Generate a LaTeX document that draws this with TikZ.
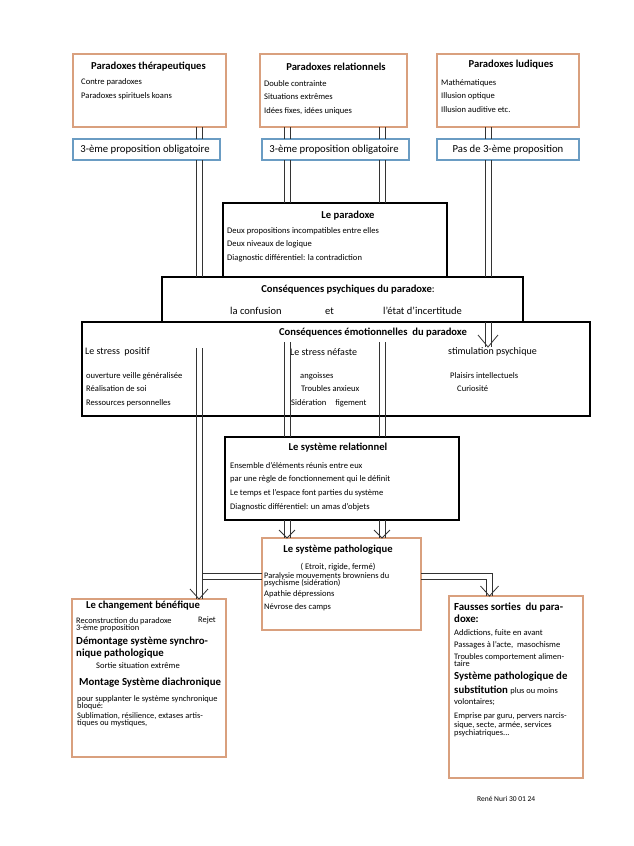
\documentclass[tikz,border=0pt]{standalone}
\usepackage{fontspec}
\setmainfont{Carlito}
\usetikzlibrary{positioning,backgrounds}

\definecolor{scan_orange}{HTML}{D9A07E}
\definecolor{scan_blue}{HTML}{6A9CC3}
\definecolor{scan_grey}{HTML}{333333}

\tikzstyle{line}       = [draw=scan_grey, line width=0.8pt]
\tikzstyle{default}    = [rectangle, inner sep=0pt, outer sep=0pt, anchor=north west]
\tikzstyle{orange_box} = [default, draw=scan_orange, line width=2.6pt]
\tikzstyle{blue_box}   = [default, draw=scan_blue, line width=2.2pt]
\tikzstyle{black_box}  = [default, draw=black, line width=2.4pt]
\tikzstyle{title}      = [inner sep=0pt, font=\bfseries\fontsize{10.6}{12}\selectfont]
\tikzstyle{head}       = [inner sep=0pt, anchor=north west, align=left, font=\bfseries\fontsize{10.8}{12}\selectfont]
\tikzstyle{body}       = [inner sep=0pt, anchor=north west, align=left, font=\fontsize{8.55}{13.7}\selectfont]
\tikzstyle{tight}      = [body, font=\fontsize{8.4}{7.6}\selectfont, execute at begin node={\lineskiplimit=-10pt}]
\tikzstyle{big_text}   = [inner sep=0pt, anchor=west, font=\fontsize{10.5}{12}\selectfont]
\tikzstyle{prop_text}  = [inner sep=0pt, font=\fontsize{10.7}{12}\selectfont]
\tikzstyle{sign}       = [inner sep=0pt, anchor=west, font=\fontsize{7.5}{9}\selectfont]

\begin{document}
\begin{tikzpicture}[x=1pt, y=-1pt]
   \useasboundingbox (0,0) rectangle (633,846);

   % Paradox families
   \node at (73,54) [orange_box, minimum width=153, minimum height=73] (paradoxes ther) {};
   \node at (148.5,67) [title] (ther title) {Paradoxes thérapeutiques};
   \node at (81,78) [body, font=\fontsize{8.55}{14.5}\selectfont] (ther text) {Contre paradoxes\\Paradoxes spirituels koans};

   \node at (260,54) [orange_box, minimum width=147, minimum height=73] (paradoxes rel) {};
   \node at (336,67) [title] (rel title) {Paradoxes relationnels};
   \node at (264,80) [body] (rel text) {Double contrainte\\Situations extrêmes\\Idées fixes, idées uniques};

   \node at (437,54) [orange_box, minimum width=142, minimum height=73] (paradoxes lud) {};
   \node at (511,65) [title] (lud title) {Paradoxes ludiques};
   \node at (441,79) [body] (lud text) {Mathématiques\\Illusion optique\\Illusion auditive etc.};

   % Third proposition
   \node at (73,139) [blue_box, minimum width=147, minimum height=21] (prop ther) {};
   \node at (145,150) [prop_text] (prop ther text) {3-ème proposition obligatoire};
   \node at (262,139) [blue_box, minimum width=147, minimum height=21] (prop rel) {};
   \node at (334,150) [prop_text] (prop rel text) {3-ème proposition obligatoire};
   \node at (437,139) [blue_box, minimum width=142, minimum height=21] (prop lud) {};
   \node at (508,150) [prop_text] (prop lud text) {Pas de 3-ème proposition};

   % Le paradoxe
   \node at (223,203) [black_box, minimum width=224, minimum height=74] (paradoxe) {};
   \node at (348,216) [title] (paradoxe title) {Le paradoxe};
   \node at (227,227) [body] (paradoxe text) {Deux propositions incompatibles entre elles\\Deux niveaux de logique\\Diagnostic différentiel: la contradiction};

   % Psychic consequences
   \node at (162,277) [black_box, minimum width=361, minimum height=45] (psychiques) {};
   \node at (348,290) [title] (psychiques title) {Conséquences psychiques du paradoxe{\mdseries :}};
   \node at (230,311) [big_text] (confusion) {la confusion};
   \node at (325,311) [big_text] (et) {et};
   \node at (383,311) [big_text] (incertitude) {l’état d’incertitude};

   % Emotional consequences
   \node at (82,322) [black_box, minimum width=508, minimum height=94] (emotionnelles) {};
   \node at (373,333) [title] (emotionnelles title) {Conséquences émotionnelles\ \ du paradoxe};
   \node at (85,352) [big_text, font=\fontsize{10}{12}\selectfont] (stress pos) {Le stress\ \ positif};
   \node at (290,352) [big_text, font=\fontsize{10}{12}\selectfont] (stress nef) {Le stress néfaste};
   \node at (448,352) [big_text, font=\fontsize{10}{12}\selectfont] (stimulation) {stimulation psychique};
   \node at (86,372) [body] (stress pos text) {ouverture veille généralisée\\Réalisation de soi\\Ressources personnelles};
   \node at (291,372) [body] (stress nef text) {\hspace*{9pt}angoisses\\\hspace*{10pt}Troubles anxieux\\Sidération\hspace{9pt}figement};
   \node at (450,372) [body] (stimulation text) {Plaisirs intellectuels\\\hspace*{7pt}Curiosité};

   % Le systeme relationnel
   \node at (225,437) [black_box, minimum width=234, minimum height=83] (systeme rel) {};
   \node at (338,448) [title] (systeme rel title) {Le système relationnel};
   \node at (230,462) [body] (systeme rel text) {Ensemble d’éléments réunis entre eux\\par une règle de fonctionnement qui le définit\\Le temps et l’espace font parties du système\\Diagnostic différentiel: un amas d’objets};

   % Le systeme pathologique
   \node at (262,538) [orange_box, minimum width=159, minimum height=92] (systeme path) {};
   \node at (338,550) [title] (systeme path title) {Le système pathologique};
   \node at (338,567) [body, anchor=center] (systeme path sub) {( Etroit, rigide, fermé)};
   \node at (264,572) [tight] (systeme path text) {Paralysie mouvements browniens du\\psychisme (sidération)};
   \node at (264,590) [body] (systeme path more) {Apathie dépressions\\Névrose des camps};

   % Le changement benefique
   \node at (72,599) [orange_box, minimum width=154, minimum height=158] (changement) {};
   \node at (143,606) [title] (changement title) {Le changement bénéfique};
   \node at (76,617) [tight] (reconstruction) {Reconstruction du paradoxe\\3-ème proposition};
   \node at (198,617) [tight] (rejet) {Rejet};
   \node at (76,637) [head] (demontage) {Démontage système synchro-\\nique pathologique};
   \node at (138,666) [body, anchor=center] (sortie) {Sortie situation extrême};
   \node at (79,678) [head] (montage) {Montage Système diachronique};
   \node at (77,695) [tight] (supplanter) {pour supplanter le système synchronique\\bloqué:};
   \node at (77,712) [tight] (sublimation) {Sublimation, résilience, extases artis-\\tiques ou mystiques,};

   % Fausses sorties
   \node at (449,596) [orange_box, minimum width=134, minimum height=182] (fausses sorties) {};
   \node at (454,603) [head] (fausses title) {Fausses sorties\ \ du para-\\doxe:};
   \node at (454,629) [body, font=\fontsize{8.55}{12}\selectfont] (addictions) {Addictions, fuite en avant\\Passages à l’acte,\ \ masochisme};
   \node at (454,653) [tight] (troubles) {Troubles comportement alimen-\\taire};
   \node at (454,672) [head, font=\bfseries\fontsize{10.8}{14}\selectfont] (substitution) {Système pathologique de\\substitution {\mdseries\fontsize{8.4}{14}\selectfont plus ou moins}};
   \node at (454,698) [body] (volontaires) {volontaires;};
   \node at (454,713) [tight, font=\fontsize{8.4}{8.2}\selectfont] (emprise) {Emprise par guru, pervers narcis-\\sique, secte, armée, services\\psychiatriques...};

   \node at (477,799) [sign] (signature) {René Nuri 30 01 24};

   % Columns of the double connectors
   \coordinate (col A) at (199,0);
   \coordinate (col B) at (287,0);
   \coordinate (col C) at (382,0);
   \coordinate (col D) at (488,0);
   \coordinate (emo A) at (199,348);
   \coordinate (emo B) at (287,342);
   \coordinate (emo C) at (382,342);
   \coordinate (emo D) at (488,347);
   \coordinate (join left) at (202,576);
   \coordinate (join right) at (489.5,576.5);

   \begin{pgfonlayer}{background}
      \fill [white] (0,0) rectangle (633,846);
   \end{pgfonlayer}

   \foreach \s in {-3,3} {
      % families to propositions
      \path [line] ([xshift=\s]paradoxes ther.south -| col A) -- ([xshift=\s]prop ther.north -| col A);
      \path [line] ([xshift=\s]paradoxes rel.south -| col B) -- ([xshift=\s]prop rel.north -| col B);
      \path [line] ([xshift=\s]paradoxes rel.south -| col C) -- ([xshift=\s]prop rel.north -| col C);
      \path [line] ([xshift=\s]paradoxes lud.south -| col D) -- ([xshift=\s]prop lud.north -| col D);
      % propositions to paradoxe
      \path [line] ([xshift=\s]prop ther.south -| col A) -- ([xshift=\s]psychiques.north -| col A);
      \path [line] ([xshift=\s]prop rel.south -| col B) -- ([xshift=\s]paradoxe.north -| col B);
      \path [line] ([xshift=\s]prop rel.south -| col C) -- ([xshift=\s]paradoxe.north -| col C);
      \path [line] ([xshift=\s]prop lud.south -| col D) -- ([xshift=\s]psychiques.north -| col D);
      \path [line] ([xshift=\s]psychiques.south -| col D) -- ([xshift=\s]emo D);
      % emotions to systems
      \path [line] ([xshift=\s]emo B) -- ([xshift=\s]systeme rel.north -| emo B);
      \path [line] ([xshift=\s]emo C) -- ([xshift=\s]systeme rel.north -| emo C);
      \path [line] ([xshift=\s]systeme rel.south -| col B) -- ([xshift=\s]systeme path.north -| col B);
      \path [line] ([xshift=\s]systeme rel.south -| col C) -- ([xshift=\s]systeme path.north -| col C);
      % ways out
      \path [line] ([yshift=\s]systeme path.west |- join left) -- ([yshift=\s]join left);
      \path [line] ([xshift=\s]emo A) -- ([xshift=\s]changement.north -| emo A);
      \path [line] ([yshift=\s]systeme path.east |- join right) -- ([xshift=\s,yshift=\s]join right) -- ([xshift=\s]fausses sorties.north -| join right);
   }

   % Arrow heads
   \path [line] (emo D) ++(-10,-12) -- (emo D) -- ++(10,-12);
   \path [line] (systeme path.north -| col B) ++(-8,-8) -- (systeme path.north -| col B) -- ++(8,-8);
   \path [line] (systeme path.north -| col C) ++(-8,-8) -- (systeme path.north -| col C) -- ++(8,-8);
   \path [line] (changement.north -| col A) ++(-9,-10) -- (changement.north -| col A) -- ++(9,-10);
   \path [line] (fausses sorties.north -| join right) ++(-9,-10) -- (fausses sorties.north -| join right) -- ++(9,-10);

\end{tikzpicture}
\end{document}
